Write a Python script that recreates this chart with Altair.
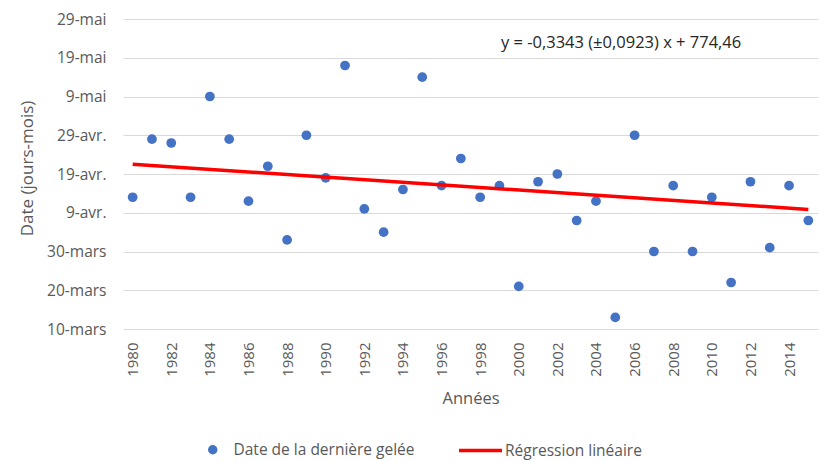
import altair as alt
import pandas as pd

years = list(range(1980, 2016))
# day of year (leap-year count: 10-mars = 70)
days = [104, 119, 118, 104, 130, 119, 103, 112, 93, 120,
        109, 138, 101, 95, 106, 135, 107, 114, 104, 107,
        81, 108, 110, 98, 103, 73, 120, 90, 107, 90,
        104, 82, 108, 91, 107, 98]

tick_days = [70, 80, 90, 100, 110, 120, 130, 140, 150]
tick_labels = ["10-mars", "20-mars", "30-mars", "9-avr.", "19-avr.",
               "29-avr.", "9-mai", "19-mai", "29-mai"]
x_ticks = list(range(1980, 2015, 2))

slope = -0.3343
intercept = 774.46
equation = "y = -0,3343 (±0,0923) x + 774,46"
eq_pos = [2005.3, 143.8]

series_pts = "Date de la dernière gelée"
series_reg = "Régression linéaire"

FONT = "Open Sans"
GREY = "#595959"

pts = pd.DataFrame({"year": years, "day": days, "s": series_pts})
reg_years = [years[0], years[-1]]
reg = pd.DataFrame({"year": reg_years,
                    "day": [slope * y + intercept for y in reg_years],
                    "s": series_reg})
eq = pd.DataFrame({"year": [eq_pos[0]], "day": [eq_pos[1]], "t": [equation]})

label_expr = "{" + ",".join(f"'{d}':'{l}'" for d, l in zip(tick_days, tick_labels)) + "}[datum.value]"

xscale = alt.Scale(domain=[1979.5, 2015.5], nice=False, zero=False)
yscale = alt.Scale(domain=[70, 150], nice=False, zero=False)

x_axis = alt.Axis(values=x_ticks, tickCount=len(x_ticks), format="d", labelAngle=-90,
                  grid=False, labelOverlap=False,
                  domain=False, ticks=False, tickSize=0, labelPadding=13,
                  labelFont=FONT, labelFontSize=15, labelColor=GREY,
                  title="Années", titleFont=FONT, titleFontSize=16.5,
                  titleFontWeight="normal", titleColor=GREY,
                  titleX=347.5, titleY=69, titleBaseline="middle")
y_axis = alt.Axis(values=tick_days, tickCount=len(tick_days), labelExpr=label_expr,
                  grid=True, labelOverlap=False,
                  gridColor="#d9d9d9", gridWidth=1, domain=False, ticks=False,
                  tickSize=0, labelPadding=17, labelFont=FONT, labelFontSize=15.5,
                  labelColor=GREY, title="Date (jours-mois)", titleFont=FONT,
                  titleFontSize=17, titleFontWeight="normal", titleColor=GREY,
                  titleX=-96, titleY=149, titleBaseline="middle")

points = alt.Chart(pts).mark_point(filled=True, opacity=1, size=95).encode(
    x=alt.X("year:Q", scale=xscale, axis=x_axis),
    y=alt.Y("day:Q", scale=yscale, axis=y_axis),
    color=alt.Color("s:N", scale=alt.Scale(domain=[series_pts], range=["#4472C4"]),
                    legend=alt.Legend(orient="none", legendX=82, legendY=423,
                                      title=None, symbolType="circle",
                                      symbolSize=90, symbolOpacity=1,
                                      symbolStrokeWidth=0, labelLimit=0,
                                      labelOffset=13, labelFont=FONT,
                                      labelFontSize=15.5, labelColor=GREY,
                                      padding=0)),
)

line = alt.Chart(reg).mark_line(strokeWidth=3.5).encode(
    x="year:Q",
    y="day:Q",
    color=alt.Color("s:N", scale=alt.Scale(domain=[series_reg], range=["#FF0000"]),
                    legend=alt.Legend(orient="none", legendX=334, legendY=408,
                                      title=None, symbolType="stroke",
                                      symbolSize=1849, symbolStrokeWidth=3.5,
                                      labelLimit=0,
                                      labelOffset=1, labelFont=FONT,
                                      labelFontSize=15.5, labelColor=GREY,
                                      padding=0)),
)

text = alt.Chart(eq).mark_text(font=FONT, fontSize=16.5, color="#262626",
                               align="center", baseline="middle").encode(
    x="year:Q", y="day:Q", text="t:N")

chart = alt.layer(points, line, text).resolve_scale(color="independent").properties(
    width=695, height=310,
    autosize=alt.AutoSizeParams(type="none"),
    padding={"left": 115, "top": 11, "right": 1, "bottom": 135},
).configure_view(stroke=None)

chart.save("out.html", embed_options={"renderer": "svg", "actions": False})
